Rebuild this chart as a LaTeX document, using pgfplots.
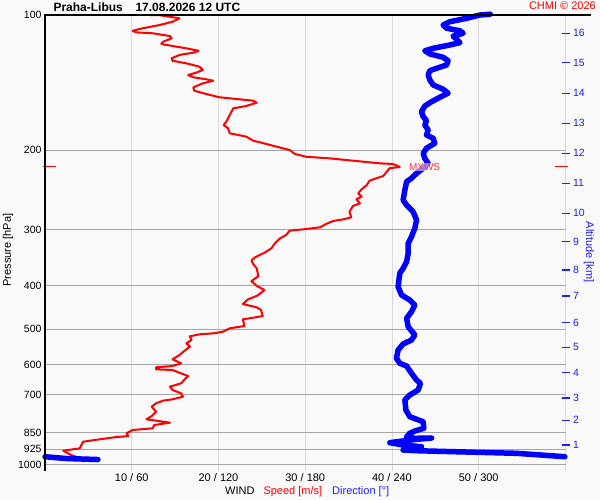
\documentclass[border=0pt]{standalone}
\usepackage{fontspec}
\setmainfont{Liberation Sans}
\usepackage{pgfplots}
\pgfplotsset{compat=1.18}
\definecolor{bg}{RGB}{249,249,249}
\definecolor{hgrid}{RGB}{165,165,165}
\definecolor{vgrid}{RGB}{218,218,218}
\definecolor{myred}{RGB}{255,0,0}
\definecolor{myblue}{RGB}{0,0,255}
\definecolor{labblue}{RGB}{30,30,255}
\begin{document}
\begin{tikzpicture}[x=1pt,y=1pt]
\fill[bg] (0,0) rectangle (600,500);
\path[use as bounding box] (0,0) rectangle (600,500);
\begin{axis}[
  at={(45pt,35.5pt)}, anchor=south west,
  scale only axis, width=520.5pt, height=449.5pt,
  xmin=0, xmax=60, ymin=100, ymax=1000,
  ymode=log, y dir=reverse,
  clip=false,
  axis line style={draw=none},
  xtick={10,20,30,40,50,60},
  xticklabels={10 / 60,20 / 120,30 / 180,40 / 240,50 / 300,{}},
  ytick={100,200,300,400,500,600,700,850,925,1000},
  yticklabels={100,200,300,400,500,600,700,850,925,1000},
  xmajorgrids, ymajorgrids,
  x grid style={vgrid, line width=1pt},
  y grid style={hgrid, line width=1pt},
  tick style={draw=none},
  xticklabel style={font=\fontsize{11}{13}\selectfont, anchor=base, yshift=-17.2pt},
  yticklabel style={font=\fontsize{10.5}{12}\selectfont},
  /pgf/number format/assume math mode=true,
]
\pgfplotsinvokeforeach{10,20,30,40,50,60}{\draw[vgrid,line width=1pt] (axis cs:#1,1000) -- ([yshift=-6pt]axis cs:#1,1000);}
% wind speed
\addplot[myred, line width=2pt, line join=round] coordinates {
(12.1,100)(13.1,100)(15.5,101.7)(14.7,103.5)(13.2,105.3)(11.3,107.0)(10.1,108.4)(10.5,109.3)(12.4,109.8)(14.4,111.4)(14.6,112.7)(13.6,114.7)(13.4,116.0)(14.7,117.2)(16.3,118.6)(17.7,120.1)(17.1,121.3)(15.5,122.7)(14.6,124.8)(14.7,126.4)(16.3,128.1)(17.8,130.3)(18.2,132.5)(17.4,134.4)(16.5,136.0)(17.1,137.6)(18.6,139.0)(19.4,140.0)(18.2,141.9)(17.1,144.8)(17.2,147.4)(18.6,149.9)(20.1,152.4)(22.4,154.0)(24.0,155.1)(24.4,156.7)(23.2,159.4)(21.7,161.3)(21.5,164.1)(21.3,166.9)(20.9,172.7)(20.6,175.7)(21.1,178.7)(21.3,183.3)(23.2,186.5)(24.0,190.4)(25.5,193.6)(27.4,197.9)(28.2,199.7)(28.8,203.8)(30.1,206.7)(32.8,208.4)(35.5,210.9)(38.6,213.8)(40.1,214.5)(40.9,217.8)(39.7,219.3)(39.4,223.1)(39.0,228.1)(38.2,230.8)(37.4,233.7)(37.1,238.9)(36.5,244.2)(36.1,249.3)(36.5,253.6)(35.9,257.0)(36.3,262.4)(35.5,266.0)(35.1,273.9)(35.3,281.9)(34.4,284.8)(33.2,287.3)(32.4,291.7)(31.7,296.7)(30.1,299.3)(28.2,301.9)(27.8,308.6)(27.1,313.9)(26.5,322.0)(26.1,330.4)(25.3,337.9)(24.2,346.0)(23.8,351.7)(24.0,358.1)(24.4,366.1)(24.6,380.8)(23.8,391.1)(24.4,400.4)(25.3,409.1)(24.5,420.8)(23.4,429.1)(22.8,439.5)(24.4,447.0)(24.9,453.2)(25.1,467.4)(24.0,471.4)(22.8,475.4)(23.0,491.9)(21.3,497.7)(20.5,506.5)(19.4,510.7)(17.8,513.3)(16.7,518.6)(16.9,528.5)(16.3,537.5)(16.7,546.4)(16.1,558.3)(15.5,570.8)(14.7,583.5)(15.7,595.5)(14.7,603.8)(12.8,607.8)(12.8,614.1)(14.7,616.3)(15.5,624.9)(16.5,635.5)(16.1,646.3)(15.7,659.7)(14.4,671.3)(14.7,682.7)(15.7,694.4)(15.9,706.6)(14.7,716.0)(13.6,721.2)(12.8,730.9)(12.3,743.7)(12.8,763.0)(12.3,780.0)(11.7,793.3)(12.8,799.0)(14.4,807.2)(12.6,816.8)(12.4,830.8)(10.1,838.0)(9.4,852.2)(9.6,864.2)(8.0,869.9)(6.3,878.9)(4.4,889.8)(4.2,905.0)(4.0,920.4)(2.1,931.8)(3.0,952.5)(3.6,960.9)(2.4,965.8)(2.1,972.3)
};
% wind direction (degrees, plotted on the 0..360 scale = speed*6)
\addplot[myblue, line width=5.5pt, line join=round, line cap=round] table[x expr=\thisrow{dir}/6, y=p] {
dir p
308.0 99.6
300.8 100
291.6 101.7
280.0 103.5
275.4 105.3
277.7 107.0
287.0 108.4
289.2 109.8
282.3 111.4
284.7 113.3
287.0 115.2
280.0 116.6
268.5 118.6
262.7 120.1
266.2 122.1
275.4 124.2
278.8 126.4
277.7 129.2
270.8 131.4
266.2 133.0
265.0 136.0
266.2 139.5
268.5 143.1
275.4 146.3
278.8 149.3
273.1 152.4
267.4 155.9
262.7 159.4
260.4 164.1
261.6 168.4
263.9 171.8
262.7 175.7
265.0 180.2
263.9 184.9
268.5 188.1
269.6 192.9
263.9 197.9
261.6 203.1
262.7 208.4
265.0 213.8
261.6 219.3
257.0 225.0
253.5 230.8
250.1 234.9
248.9 245.1
247.7 258.0
250.1 264.7
254.6 273.9
257.0 285.8
255.8 298.2
253.5 311.3
251.2 322.0
251.2 338.9
250.1 353.9
247.7 366.1
245.4 375.6
244.2 402.2
246.6 419.7
252.3 430.6
255.8 441.7
253.5 457.1
250.1 472.9
251.2 493.7
255.8 515.1
253.5 528.5
247.7 539.4
244.2 556.3
243.1 580.4
245.4 595.5
250.1 603.8
253.5 626.8
257.0 648.7
259.7 659.7
258.1 682.7
252.3 700.5
248.9 718.6
249.6 756.4
252.3 782.8
257.0 793.3
261.6 803.1
262.0 830.8
255.8 842.4
252.3 852.2
250.1 867.3
255.8 874.4
267.4 873.0
252.3 882.1
238.5 894.3
247.7 905.0
260.4 912.9
250.1 920.4
247.7 928.4
257.0 931.8
291.6 938.0
326.2 944.3
359.6 960.9
};
\addplot[myblue, line width=5.5pt, line join=round, line cap=round] table[x expr=\thisrow{dir}/6, y=p] {
dir p
0.0 960.9
14.7 969.8
36.6 974.8
};
% max wind markers
\draw[myred, line width=1pt] ([xshift=-2pt]axis cs:0,217.8) -- ([xshift=11pt]axis cs:0,217.8);
\draw[myred, line width=1pt] ([xshift=-10.5pt]axis cs:60,217.8) -- ([xshift=2pt]axis cs:60,217.8);
\node[anchor=west, text=myred!80, font=\fontsize{10}{12}\selectfont, fill=white, fill opacity=0.55, text opacity=1, inner sep=0.5pt] at ([xshift=8.5pt]axis cs:40.9,217.8) {MXWS};
% frame lines
\draw[black, line width=1.3pt] ([yshift=-6pt]axis cs:0,1000) -- (axis cs:0,100) -- ([xshift=25pt]axis cs:60,100);
\end{axis}
\begin{axis}[
  at={(45pt,35.5pt)}, anchor=south west,
  scale only axis, width=520.5pt, height=449.5pt,
  xmin=0, xmax=60, ymin=100, ymax=1000,
  ymode=log, y dir=reverse,
  axis x line=none, axis y line*=right,
  axis line style={draw=none},
  ytick={109.8,127.7,149.4,174.1,203.1,236.8,276.2,319.4,369.1,421.8,483.6,548.4,624.7,711.3,797.4,904.6},
  yticklabels={16,15,14,13,12,11,10,9,8,7,6,5,4,3,2,1},
  ytick style={labblue, line width=1.3pt},
  major tick length=8pt, tick align=center,
  yticklabel style={text=labblue, font=\fontsize{10.5}{12}\selectfont},
  /pgf/number format/assume math mode=true,
]
\end{axis}
% titles and labels
\node[anchor=base west, font=\bfseries\fontsize{12}{14}\selectfont] at (50,488.3) {Praha-Libus};
\node[anchor=base west, font=\bfseries\fontsize{12}{14}\selectfont] at (132,488.3) {17.08.2026 12 UTC};
\node[anchor=base east, text=myred, font=\fontsize{11}{13}\selectfont, inner sep=0pt] at (596,490) {CHMI © 2026};
\node[rotate=90, font=\fontsize{11}{13}\selectfont] at (8,250) {Pressure [hPa]};
\node[rotate=-90, text=labblue, font=\fontsize{11}{13}\selectfont] at (589,248) {Altitude [km]};
\node[anchor=base west, inner sep=0pt, font=\fontsize{11}{13}\selectfont] at (225,5) {WIND\hspace{9pt}\textcolor{myred}{Speed [m/s]}\hspace{10pt}\textcolor{labblue}{Direction [°]}};
\end{tikzpicture}
\end{document}
